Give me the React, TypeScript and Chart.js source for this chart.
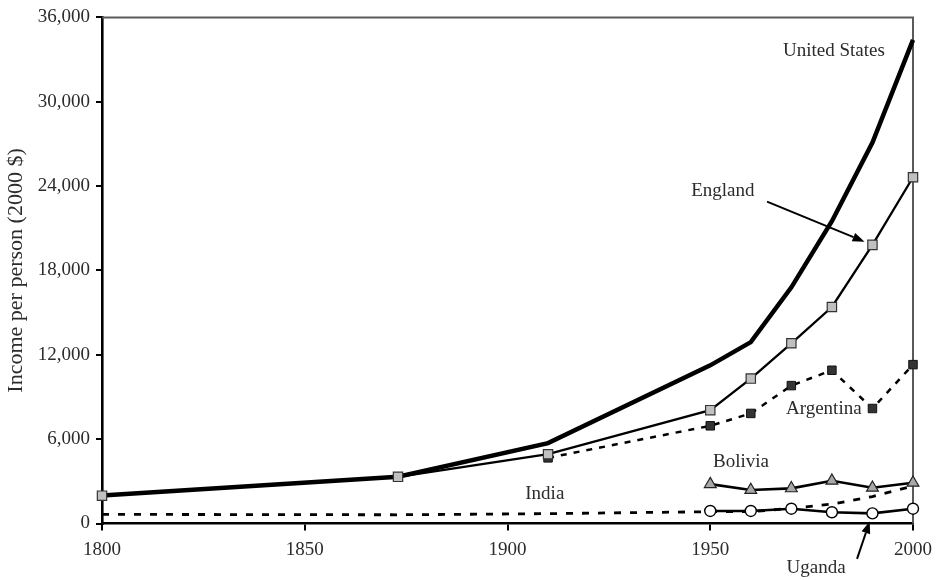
import React, { useEffect, useRef } from 'react';
import { Chart, registerables } from 'chart.js';

Chart.register(...registerables);

// ---- data ----
const longYears = [1800, 1873, 1910, 1950, 1960, 1970, 1980, 1990, 2000];
const usIncome = [2000, 3330, 5720, 11250, 12900, 16800, 21500, 27100, 34400];
const englandIncome = [1980, 3320, 4930, 8060, 10310, 12820, 15400, 19820, 24630];
const indiaIncome = [650, 620, 700, 840, 840, 1080, 1380, 1920, 2660];

const argentinaYears = [1910, 1950, 1960, 1970, 1980, 1990, 2000];
const argentinaIncome = [4670, 6950, 7830, 9810, 10900, 8180, 11300];

const modernYears = [1950, 1960, 1970, 1980, 1990, 2000];
const boliviaIncome = [2800, 2380, 2500, 3040, 2540, 2900];
const ugandaIncome = [890, 890, 1050, 800, 720, 1050];

const yTicks = [0, 6000, 12000, 18000, 24000, 30000, 36000];
const xTicks = [1800, 1850, 1900, 1950, 2000];

// annotation labels (anchored in data units)
const labelTexts = ['United States', 'England', 'Argentina', 'Bolivia', 'India', 'Uganda'];
const labelYears = [1980.5, 1953.1, 1978.0, 1957.6, 1909.2, 1976.1];
const labelValues = [33620, 23680, 8130, 4370, 2090, -3160];

// arrows: tail in data units, head points at a series point
const arrowTailYears = [1964.0, 1986.2];
const arrowTailValues = [22900, -2520];
const arrowTargetYear = [1990, 1990];
const arrowTargetValue = [englandIncome[7], ugandaIncome[4]];

const FONT = '"Liberation Serif", "Times New Roman", serif';
const TEXT = '#2b2b2b';

const pts = (xs: number[], ys: number[]) => xs.map((x, i) => ({ x, y: ys[i] }));

export default function App() {
  const ref = useRef<HTMLCanvasElement>(null);

  useEffect(() => {
    document.body.style.margin = '0';
    const canvas = ref.current;
    if (!canvas) return;

    const annot = {
      id: 'annot',
      beforeDatasetsDraw(chart: any) {
        const { ctx, chartArea: a } = chart;
        ctx.save();
        ctx.strokeStyle = '#5a5a5a';
        ctx.lineWidth = 2;
        ctx.beginPath();
        ctx.moveTo(a.left, a.top);
        ctx.lineTo(a.right, a.top);
        ctx.lineTo(a.right, a.bottom);
        ctx.stroke();
        ctx.restore();
      },
      afterDatasetsDraw(chart: any) {
        const { ctx } = chart;
        const xs = chart.scales.x;
        const ys = chart.scales.y;
        ctx.save();
        ctx.fillStyle = TEXT;
        ctx.font = `19px ${FONT}`;
        ctx.textAlign = 'center';
        ctx.textBaseline = 'middle';
        labelTexts.forEach((t, i) => {
          ctx.fillText(t, xs.getPixelForValue(labelYears[i]), ys.getPixelForValue(labelValues[i]));
        });
        // arrows
        ctx.strokeStyle = '#000';
        ctx.fillStyle = '#000';
        ctx.lineWidth = 2;
        for (let i = 0; i < arrowTailYears.length; i++) {
          const x0 = xs.getPixelForValue(arrowTailYears[i]);
          const y0 = ys.getPixelForValue(arrowTailValues[i]);
          const px = xs.getPixelForValue(arrowTargetYear[i]);
          const py = ys.getPixelForValue(arrowTargetValue[i]);
          const dx = px - x0;
          const dy = py - y0;
          const len = Math.hypot(dx, dy);
          const ux = dx / len;
          const uy = dy / len;
          const tipX = px - ux * 8.5;
          const tipY = py - uy * 8.5;
          const headL = 12;
          const headW = 4.5;
          const bx = tipX - ux * headL;
          const by = tipY - uy * headL;
          ctx.beginPath();
          ctx.moveTo(x0, y0);
          ctx.lineTo(bx, by);
          ctx.stroke();
          ctx.beginPath();
          ctx.moveTo(tipX, tipY);
          ctx.lineTo(bx - uy * headW, by + ux * headW);
          ctx.lineTo(bx + uy * headW, by - ux * headW);
          ctx.closePath();
          ctx.fill();
        }
        ctx.restore();
      },
    };

    const chart = new Chart(canvas, {
      type: 'line',
      data: {
        datasets: [
          {
            label: 'England',
            data: pts(longYears, englandIncome),
            borderColor: '#000',
            borderWidth: 2.3,
            pointStyle: 'rect',
            pointRadius: 6.6,
            pointBackgroundColor: '#c0c0c0',
            pointBorderColor: '#333',
            pointBorderWidth: 1.2,
            tension: 0,
            clip: false,
          },
          {
            label: 'Argentina',
            data: pts(argentinaYears, argentinaIncome),
            borderColor: '#000',
            borderWidth: 2.5,
            borderDash: [6, 7],
            pointStyle: 'rect',
            pointRadius: 6,
            pointBackgroundColor: '#333',
            pointBorderColor: '#111',
            pointBorderWidth: 1,
            tension: 0,
            clip: false,
          },
          {
            label: 'Bolivia',
            data: pts(modernYears, boliviaIncome),
            borderColor: '#000',
            borderWidth: 2.6,
            pointStyle: 'triangle',
            pointRadius: 6.8,
            pointBackgroundColor: '#a8a8a8',
            pointBorderColor: '#222',
            pointBorderWidth: 1.2,
            tension: 0,
            clip: false,
          },
          {
            label: 'Uganda',
            data: pts(modernYears, ugandaIncome),
            borderColor: '#000',
            borderWidth: 2.6,
            pointStyle: 'circle',
            pointRadius: 5.5,
            pointBackgroundColor: '#fff',
            pointBorderColor: '#000',
            pointBorderWidth: 1.4,
            tension: 0,
            clip: false,
          },
          {
            label: 'United States',
            data: pts(longYears, usIncome),
            borderColor: '#000',
            borderWidth: 4.5,
            pointRadius: 0,
            tension: 0,
            clip: false,
          },
          {
            label: 'India',
            data: pts(longYears, indiaIncome),
            borderColor: '#000',
            borderWidth: 2.8,
            borderDash: [7, 9],
            pointRadius: 0,
            tension: 0,
            clip: false,
          },
        ],
      },
      options: {
        animation: false,
        responsive: false,
        events: [],
        layout: { padding: { left: 0, right: 27, top: 17, bottom: 0 } },
        plugins: {
          legend: { display: false },
          tooltip: { enabled: false },
        },
        scales: {
          x: {
            type: 'linear',
            min: 1800,
            max: 2000,
            afterBuildTicks: (s: any) => {
              s.ticks = xTicks.map((v) => ({ value: v }));
            },
            afterFit: (s: any) => {
              s.height = 56.5;
            },
            ticks: {
              autoSkip: false,
              maxRotation: 0,
              padding: 8,
              color: TEXT,
              font: { family: FONT, size: 19 },
              callback: (v: any) => String(v),
            },
            grid: {
              drawOnChartArea: false,
              drawTicks: true,
              tickLength: 7,
              color: '#000',
              lineWidth: 2,
            },
            border: { display: true, color: '#000', width: 2.6 },
          },
          y: {
            type: 'linear',
            min: 0,
            max: 36000,
            afterBuildTicks: (s: any) => {
              s.ticks = yTicks.map((v) => ({ value: v }));
            },
            afterFit: (s: any) => {
              s.width = 102;
            },
            ticks: {
              autoSkip: false,
              padding: 6,
              color: TEXT,
              font: { family: FONT, size: 19 },
              callback: (v: any) => Number(v).toLocaleString('en-US'),
            },
            grid: {
              drawOnChartArea: false,
              drawTicks: true,
              tickLength: 6,
              color: '#000',
              lineWidth: 2,
            },
            border: { display: true, color: '#000', width: 2.6 },
            title: {
              display: true,
              text: 'Income per person (2000 $)',
              color: TEXT,
              font: { family: FONT, size: 22, lineHeight: 1.2 },
              padding: { top: 2.8, bottom: 0 },
            },
          },
        },
      },
      plugins: [annot],
    } as any);

    return () => chart.destroy();
  }, []);

  return (
    <div style={{ position: 'absolute', left: 0, top: 0, width: 940, height: 580, background: '#fff' }}>
      <canvas ref={ref} width={940} height={580} style={{ display: 'block' }} />
    </div>
  );
}
